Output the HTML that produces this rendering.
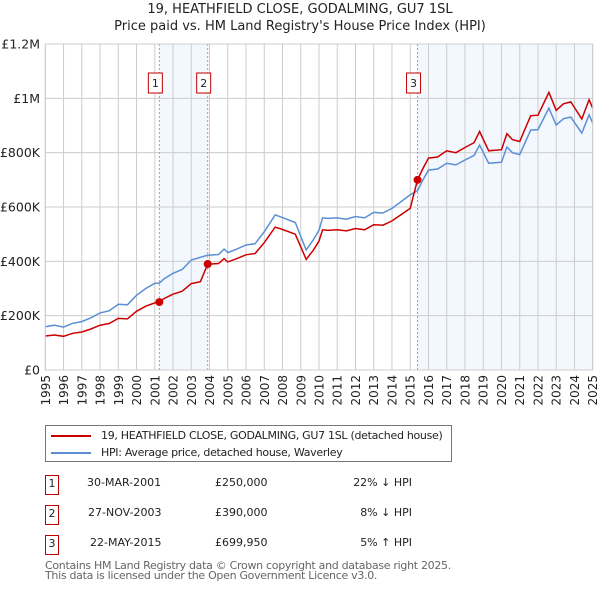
<!DOCTYPE html>
<html><head><meta charset="utf-8"><style>
body{margin:0;background:#fff;font-family:"Liberation Sans","DejaVu Sans",sans-serif;}
svg text{font-family:"DejaVu Sans","Liberation Sans",sans-serif;}
</style></head><body>
<svg id="c" width="600" height="590" xmlns="http://www.w3.org/2000/svg"></svg>
<script>
const times=[1995,1995.5,1996,1996.5,1997,1997.5,1998,1998.5,1999,1999.5,2000,2000.5,2001,2001.25,2001.5,2002,2002.5,2003,2003.5,2003.9,2004,2004.5,2004.8,2005,2005.5,2006,2006.5,2007,2007.6,2008,2008.7,2009,2009.3,2009.7,2010,2010.2,2010.5,2011,2011.5,2012,2012.5,2013,2013.5,2014,2014.5,2015,2015.4,2015.7,2016,2016.5,2017,2017.5,2018,2018.5,2018.8,2019.3,2020,2020.3,2020.6,2021,2021.6,2022,2022.6,2023,2023.4,2023.8,2024.4,2024.8,2025];
const hpiValues=[159,165,158,172,178,192,210,218,242,240,275,300,319,320,335,356,370,405,415,423,423,425,445,432,445,460,465,509,571,561,543,491,442,480,515,560,558,560,555,565,560,580,578,595,620,645,660,700,736,740,761,755,773,790,828,761,765,821,800,793,883,885,964,902,925,931,872,939,909];
const priceValues=[125,129,124,135,140,151,165,171,190,188,216,235,247,250,263,279,290,318,325,390,390,392,410,398,410,424,429,469,526,517,500,453,407,442,475,516,514,516,512,521,516,535,533,549,572,595,700,742,780,784,807,800,819,837,878,807,811,870,848,841,936,938,1022,956,980,987,924,995,964];
const saleTimes=[2001.25,2003.9,2015.4];
const saleValues=[250,390,699.95];
const saleLabels=["1","2","3"];
const yTicks=[0,200,400,600,800,1000,1200];
const yTickLabels=["£0","£200K","£400K","£600K","£800K","£1M","£1.2M"];
const X0=45.3,X1=592.7,Y0=370,Y1=44;
const xs=t=>X0+(t-1995)/30*(X1-X0);
const ys=v=>Y0-v/1200*(Y0-Y1);
const svg=document.getElementById('c');
const NS='http://www.w3.org/2000/svg';
function mk(tag,attrs,parent){const e=document.createElementNS(NS,tag);for(const k in attrs)e.setAttribute(k,attrs[k]);(parent||svg).appendChild(e);return e;}
let s1=mk('rect',{x:xs(saleTimes[0]),y:Y1,width:xs(saleTimes[1])-xs(saleTimes[0]),height:Y0-Y1,fill:'#eef3fd',opacity:0.7});


let s2=mk('rect',{x:xs(saleTimes[2]),y:Y1,width:X1-xs(saleTimes[2]),height:Y0-Y1,fill:'#eef3fd',opacity:0.7});


for(let yr=1995;yr<=2025;yr++){
  const g=mk('line',{x1:xs(yr),x2:xs(yr),y1:Y1,y2:Y0,stroke:'#cccccc','stroke-width':1});
  
  
  const t=mk('text',{x:0,y:0,'font-size':12,fill:'#222','text-anchor':'end',transform:`translate(${xs(yr)+4.5},${Y0+5}) rotate(-90)`});
  t.textContent=yr;
  
  
}
yTicks.forEach((v,i)=>{
  const g=mk('line',{x1:X0,x2:X1,y1:ys(v),y2:ys(v),stroke:'#cccccc','stroke-width':1});
  
  
  const t=mk('text',{x:40,y:ys(v)+4.5,'font-size':12.5,fill:'#222','text-anchor':'end'});
  t.textContent=yTickLabels[i];
  
  
});
saleTimes.forEach((st,i)=>{
  const l=mk('line',{x1:xs(st),x2:xs(st),y1:Y1,y2:Y0,stroke:'#ee8080','stroke-width':1,'stroke-dasharray':'2,2'});
  
  
  const b=mk('rect',{x:xs(st)-11,y:73,width:14,height:20,fill:'#fff',stroke:'#c00000','stroke-width':1});
  
  
  const t=mk('text',{x:xs(st)-4,y:87,'font-size':11,fill:'#222','text-anchor':'middle'});
  t.textContent=saleLabels[i];
  
  
});
function path(vals){return vals.map((v,i)=>(i?'L':'M')+xs(times[i]).toFixed(1)+','+ys(v).toFixed(1)).join('');}
const hp=mk('path',{d:path(hpiValues),fill:'none',stroke:'#5b8fd4','stroke-width':1.5});


const pp=mk('path',{d:path(priceValues),fill:'none',stroke:'#cc0000','stroke-width':1.5});


saleTimes.forEach((st,i)=>{
  const c=mk('circle',{cx:xs(st),cy:ys(saleValues[i]),r:4,fill:'#cc0000'});
  
  
});
const ax=mk('rect',{x:X0,y:Y1,width:X1-X0,height:Y0-Y1,fill:'none',stroke:'#cccccc'});


</script>
<div style="position:absolute;left:0;top:1px;width:600px;text-align:center;font-size:13px;line-height:17px;color:#222;font-family:'DejaVu Sans',sans-serif">19, HEATHFIELD CLOSE, GODALMING, GU7 1SL<br>Price paid vs. HM Land Registry's House Price Index (HPI)</div>
<div style="position:absolute;left:45px;top:425px;width:405px;height:35px;border:1px solid #777;font-family:'DejaVu Sans',sans-serif;font-size:11px;letter-spacing:-0.3px;color:#222">
 <div style="position:absolute;left:5px;top:3px;white-space:nowrap"><span style="display:inline-block;width:40px;height:2px;background:#cc0000;vertical-align:middle;margin-right:10px"></span>19, HEATHFIELD CLOSE, GODALMING, GU7 1SL (detached house)</div>
 <div style="position:absolute;left:5px;top:20px;white-space:nowrap"><span style="display:inline-block;width:40px;height:2px;background:#5b8fd4;vertical-align:middle;margin-right:10px"></span>HPI: Average price, detached house, Waverley</div>
</div>
<div style="font-family:'DejaVu Sans',sans-serif;font-size:11px;color:#222">
 <div style="position:absolute;top:475px;left:45px;width:400px;height:20px">
  <span style="position:absolute;left:0;top:0;width:12px;height:18px;border:1px solid #c00000;text-align:center;line-height:16px">1</span>
  <span style="position:absolute;left:42px;top:1px">30-MAR-2001</span><span style="position:absolute;left:170px;top:1px">£250,000</span><span style="position:absolute;right:33px;top:1px">22% ↓ HPI</span></div>
 <div style="position:absolute;top:505px;left:45px;width:400px;height:20px">
  <span style="position:absolute;left:0;top:0;width:12px;height:18px;border:1px solid #c00000;text-align:center;line-height:16px">2</span>
  <span style="position:absolute;left:43px;top:1px">27-NOV-2003</span><span style="position:absolute;left:170px;top:1px">£390,000</span><span style="position:absolute;right:33px;top:1px">8% ↓ HPI</span></div>
 <div style="position:absolute;top:535px;left:45px;width:400px;height:20px">
  <span style="position:absolute;left:0;top:0;width:12px;height:18px;border:1px solid #c00000;text-align:center;line-height:16px">3</span>
  <span style="position:absolute;left:45px;top:1px">22-MAY-2015</span><span style="position:absolute;left:170px;top:1px">£699,950</span><span style="position:absolute;right:33px;top:1px">5% ↑ HPI</span></div>
</div>
<div style="position:absolute;left:45px;top:561px;font-family:'DejaVu Sans',sans-serif;font-size:11px;letter-spacing:-0.3px;line-height:10px;color:#666">Contains HM Land Registry data © Crown copyright and database right 2025.<br>This data is licensed under the Open Government Licence v3.0.</div>
</body></html>
